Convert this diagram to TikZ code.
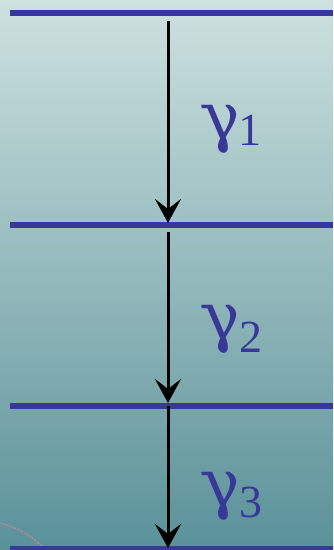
\documentclass[tikz,border=0pt]{standalone}
\usepackage{fontspec}
\setmainfont{Liberation Serif}
\newfontfamily\gamfont{DejaVu Serif}
\usetikzlibrary{arrows.meta}
\definecolor{bgtop}{RGB}{205,225,223}
\definecolor{bgbot}{RGB}{90,145,153}
\definecolor{levelblue}{RGB}{56,56,152}
\definecolor{sealpink}{RGB}{200,135,145}
\tikzset{
  level/.style={draw=levelblue, line width=6pt},
  trans/.style={draw=black, line width=3pt, -{Stealth[length=24pt,width=26pt,inset=10pt]}},
  gam/.style={anchor=base west, inner sep=0pt, text=levelblue, transform shape, xslant=-0.12,
              font=\fontsize{66}{66}\selectfont\gamfont},
  sub/.style={anchor=base west, inner sep=0pt, text=levelblue, font=\fontsize{46}{46}\selectfont}
}
\newcommand{\gamglyph}{\makebox[31pt][l]{γ}}
\begin{document}
\begin{tikzpicture}[x=1pt,y=1pt]
\useasboundingbox (0,0) rectangle (333,550);
\shade[top color=bgtop, bottom color=bgbot] (0,0) rectangle (333,550);
% faint seal watermark
\draw[sealpink, opacity=0.7, line width=1.5pt, dash pattern=on 3pt off 1pt] (-20,-60) ++(30:89) arc[start angle=30, end angle=85, radius=89];
% levels
\coordinate (l1w) at (9.5,536.7); \coordinate (l1e) at (333,536.7);
\coordinate (l2w) at (9.5,325);   \coordinate (l2e) at (333,325);
\coordinate (l3w) at (9.5,143.5); \coordinate (l3e) at (333,143.5);
\coordinate (l4w) at (9.5,0.5);   \coordinate (l4e) at (333,0.5);
\draw[level] (l1w) -- (l1e);
\draw[level] (l2w) -- (l2e);
\draw[level] (l3w) -- (l3e);
\draw[level] (l4w) -- (l4e);
% transitions
\coordinate (a1s) at (168,529); \coordinate (a1e) at (168,327);
\coordinate (a2s) at (168,318); \coordinate (a2e) at (168,147);
\coordinate (a3s) at (168,143.5); \coordinate (a3e) at (168,2);
\draw[trans] (a1s) -- (a1e);
\draw[trans] (a2s) -- (a2e);
\draw[trans] (a3s) -- (a3e);
% labels
\node[gam] (g1) at (203,410) {\gamglyph};
\node[sub] (s1) at (238,404) {1};
\node[gam] (g2) at (203,210) {\gamglyph};
\node[sub] (s2) at (239,197) {2};
\node[gam] (g3) at (203,43) {\gamglyph};
\node[sub] (s3) at (239,32) {3};
\end{tikzpicture}
\end{document}
